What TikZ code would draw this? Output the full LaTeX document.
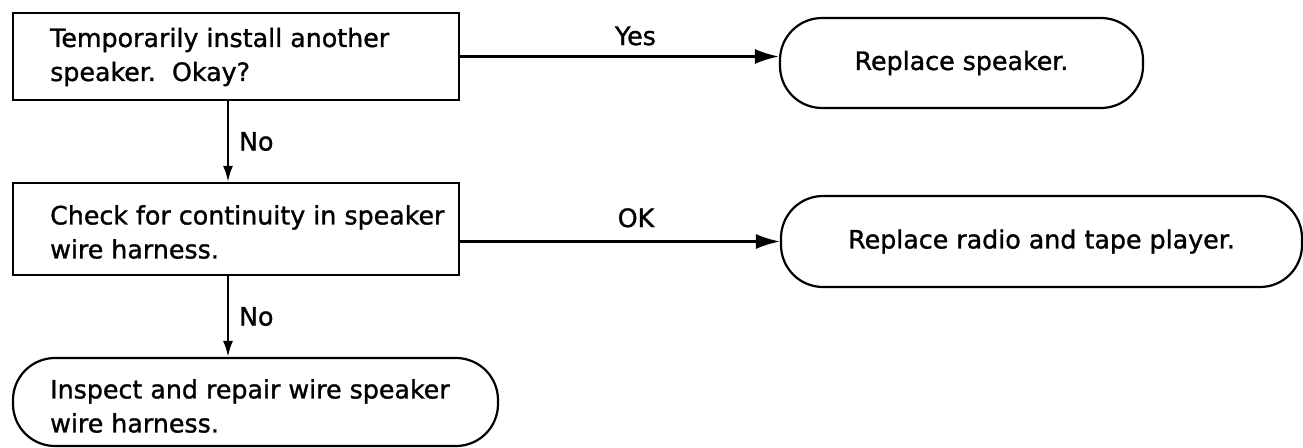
\documentclass[tikz,border=0pt]{standalone}
\usepackage{fontspec}
\setmainfont{DejaVu Sans}[FakeBold=1.2]
\usetikzlibrary{arrows.meta}
\begin{document}
\begin{tikzpicture}[x=1pt, y=-1pt,
  every node/.style={font=\fontsize{25.3}{34}\selectfont},
  stepbox/.style={draw, line width=2.2pt, rectangle, inner sep=0pt},
  endbox/.style={draw, line width=2.2pt, rectangle, rounded corners=42pt, inner sep=0pt},
  txt/.style={inner sep=0pt, align=left},
  lbl/.style={inner sep=0pt},
  harrow/.style={line width=2.2pt, -{Latex[length=24pt, width=15pt]}},
  varrow/.style={line width=2.2pt, -{Latex[length=16pt, width=10pt]}}
]
\useasboundingbox (0,0) rectangle (1303,447);

% decision / action boxes
\node[stepbox, minimum width=446pt, minimum height=87pt] (b1) at (236,56.5) {};
\node[txt, anchor=west] (t1) at (50,57) {Temporarily install another\\speaker.\ \ Okay?};

\node[stepbox, minimum width=446pt, minimum height=92pt] (b2) at (236,229) {};
\node[txt, anchor=west] (t2) at (50,232) {Check for continuity in speaker\\wire harness.};

% terminal boxes
\node[endbox, minimum width=363pt, minimum height=90pt] (s1) at (961.5,63) {Replace speaker.};
\node[endbox, minimum width=521pt, minimum height=91pt] (s2) at (1041.5,241.5) {Replace radio and tape player.};
\node[endbox, minimum width=485pt, minimum height=88pt] (s3) at (255.5,402) {};
\node[txt, anchor=west] (t3) at (50,406) {Inspect and repair wire speaker\\wire harness.};

% connectors
\draw[harrow] (b1.east) -- (b1.east -| s1.west)
  node[lbl, pos=0.55, above=10pt] (yes) {Yes};
\draw[harrow] (b2.east |- s2.west) -- (s2.west)
  node[lbl, pos=0.55, above=13pt] (ok) {OK};
\draw[varrow] ([xshift=-8pt]b1.south) -- ([xshift=-8pt]b1.south |- b2.north)
  node[lbl, midway, right=10pt] (no1) {No};
\draw[varrow] ([xshift=-8pt]b2.south) -- ([xshift=-8pt]b2.south |- s3.north)
  node[lbl, midway, right=10pt] (no2) {No};
\end{tikzpicture}
\end{document}
